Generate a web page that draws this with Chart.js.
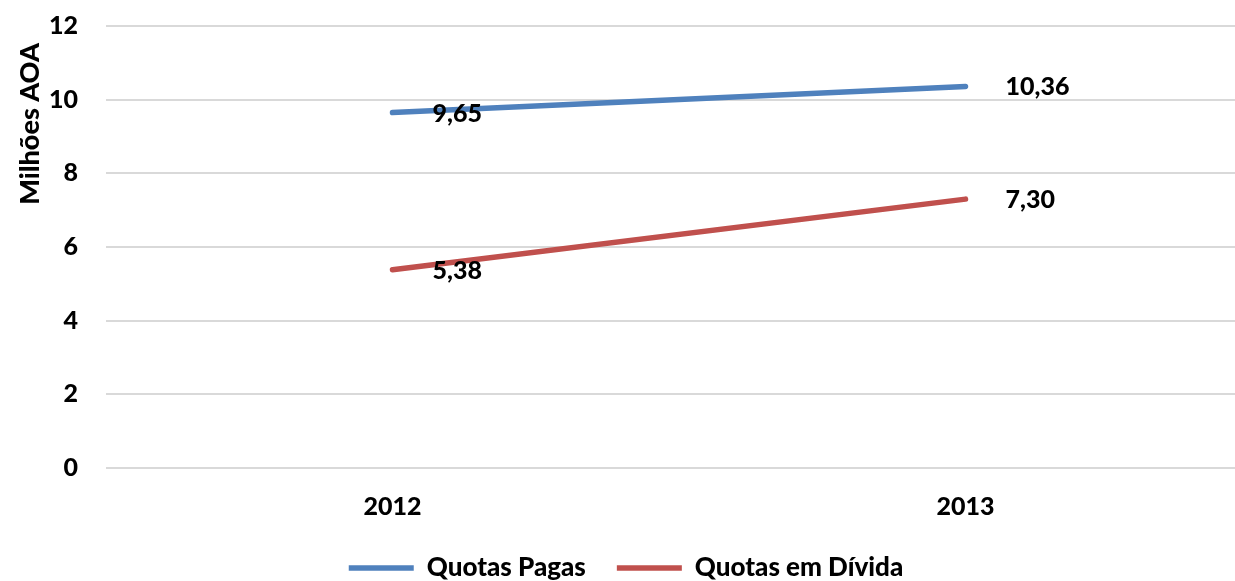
<!DOCTYPE html>
<html>
<head>
<meta charset="utf-8">
<script src="https://cdn.jsdelivr.net/npm/chart.js@4.4.1/dist/chart.umd.min.js"></script>
<style>
html,body{margin:0;padding:0;background:#fff;overflow:hidden;width:1235px;height:581px;}
#wrap{position:absolute;left:0;top:0;width:1260px;height:591px;}
</style>
</head>
<body>
<div id="wrap"><canvas id="c"></canvas></div>
<script>
const categories = ['2012', '2013'];
const quotasPagas = [9.65, 10.36];
const quotasEmDivida = [5.38, 7.30];
const seriesNames = ['Quotas Pagas', 'Quotas em Dívida'];
const yTicks = [0, 2, 4, 6, 8, 10, 12];
const yTitle = 'Milhões AOA';

const FONT = 'Lato, "Open Sans", sans-serif';
const FS = 25;
const W = 900;
const fmt = v => v.toFixed(2).replace('.', ',');

const dataLabels = {
  id: 'dataLabels',
  afterDatasetsDraw(chart) {
    const ctx = chart.ctx;
    ctx.save();
    ctx.font = W + ' ' + FS + 'px ' + FONT;
    ctx.fillStyle = '#000';
    ctx.textAlign = 'left';
    ctx.textBaseline = 'middle';
    chart.data.datasets.forEach((ds, i) => {
      const meta = chart.getDatasetMeta(i);
      meta.data.forEach((pt, j) => {
        ctx.fillText(fmt(ds.data[j]), pt.x + 40, pt.y + 1);
      });
    });
    ctx.restore();
  }
};

const axisTitle = {
  id: 'axisTitle',
  afterDraw(chart) {
    const ctx = chart.ctx;
    ctx.save();
    ctx.translate(30, 124);
    ctx.rotate(-Math.PI / 2);
    ctx.font = W + ' 27px ' + FONT;
    ctx.fillStyle = '#000';
    ctx.textAlign = 'center';
    ctx.textBaseline = 'middle';
    ctx.fillText(yTitle, 0, 0);
    ctx.restore();
  }
};

new Chart(document.getElementById('c'), {
  type: 'line',
  data: {
    labels: categories,
    datasets: [
      {label: seriesNames[0], data: quotasPagas, borderColor: '#4F81BD', backgroundColor: '#4F81BD',
       borderWidth: 5.5, borderCapStyle: 'round', pointRadius: 0, tension: 0},
      {label: seriesNames[1], data: quotasEmDivida, borderColor: '#C0504D', backgroundColor: '#C0504D',
       borderWidth: 5.5, borderCapStyle: 'round', pointRadius: 0, tension: 0}
    ]
  },
  options: {
    responsive: true,
    maintainAspectRatio: false,
    animation: false,
    layout: {padding: {left: 0, right: 8, top: 26, bottom: 0}},
    plugins: {
      tooltip: {enabled: false},
      legend: {
        position: 'bottom',
        labels: {
          usePointStyle: true,
          pointStyle: 'line',
          pointStyleWidth: 65,
          padding: 31,
          color: '#000',
          font: {family: FONT, size: 26, weight: W}
        }
      }
    },
    scales: {
      x: {
        offset: true,
        grid: {display: false, drawTicks: false},
        border: {display: false},
        ticks: {padding: 24, color: '#000', font: {family: FONT, size: FS, weight: W}},
        afterFit(s) { s.height = 56; }
      },
      y: {
        min: 0, max: 12,
        afterBuildTicks(s) { s.ticks = yTicks.map(v => ({value: v})); },
        grid: {color: '#D9D9D9', lineWidth: 2, drawTicks: false},
        border: {display: false},
        ticks: {padding: 28, color: '#000', font: {family: FONT, size: FS, weight: W}},
        title: {display: false, text: yTitle},
        afterFit(s) { s.width = 106; s.paddingTop = 0; s.paddingBottom = 0; }
      }
    }
  },
  plugins: [dataLabels, axisTitle]
});
</script>
</body>
</html>
